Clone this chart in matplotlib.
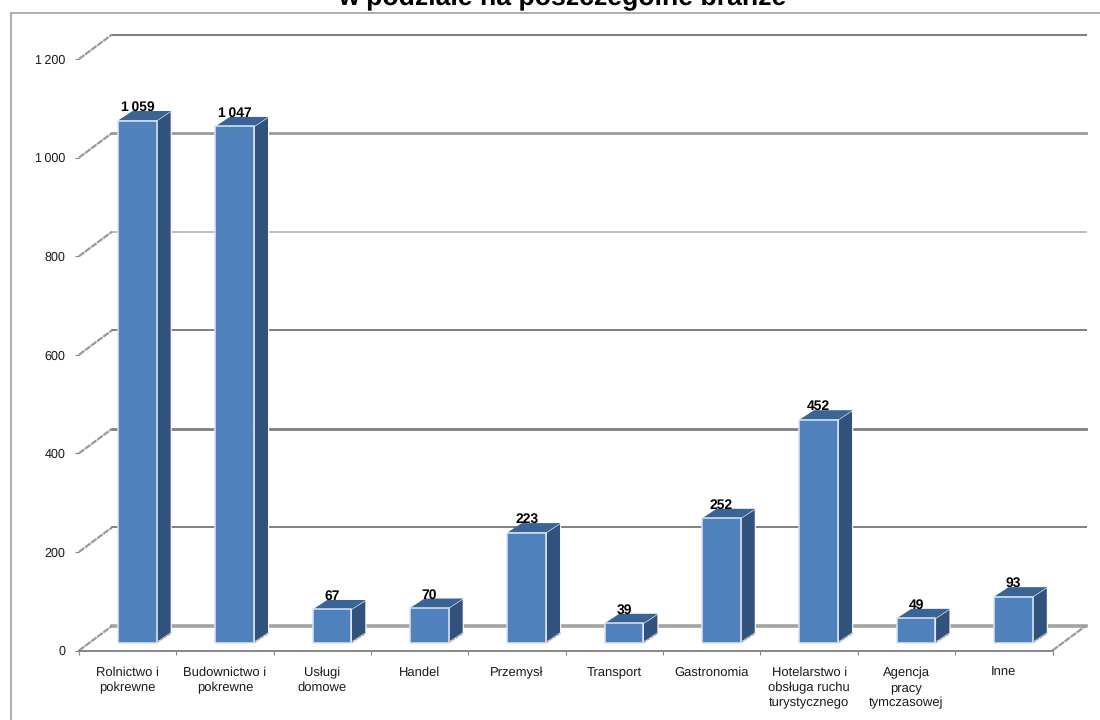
import matplotlib
matplotlib.use('Agg')
import matplotlib.pyplot as plt
from matplotlib.patches import Rectangle

plt.rcParams['font.family'] = ['Liberation Sans', 'DejaVu Sans']
plt.rcParams['text.hinting'] = 'no_hinting'

# Data
categories = ['Rolnictwo i\npokrewne', 'Budownictwo i\npokrewne', 'Usługi\ndomowe', 'Handel',
              'Przemysł', 'Transport', 'Gastronomia',
              'Hotelarstwo i\nobsługa ruchu\nturystycznego', 'Agencja\npracy\ntymczasowej', 'Inne']
values = [1059, 1047, 67, 70, 223, 39, 252, 452, 49, 93]
value_labels = ['1\u2009059', '1\u2009047', '67', '70', '223', '39', '252', '452', '49', '93']
y_ticks = [0, 200, 400, 600, 800, 1000, 1200]
y_labels = ['0', '200', '400', '600', '800', '1\u2009000', '1\u2009200']
title = 'w podziale na poszczególne branże'

W, H = 1100, 720
# one category is 97.35 px, one unit of value is 0.4929 px
PX_X = 97.35
PX_Y = 0.4929
wall_dx, wall_dy = 33 / PX_X, 24.5 / PX_Y      # depth of the floor
bar_off_x, bar_off_y = 39 / PX_X, 8 / PX_Y     # bar corner from category start
bar_w = 38.7 / PX_X
bar_dx, bar_dy = 14.5 / PX_X, 9.5 / PX_Y       # depth of a bar

fig = plt.figure(figsize=(W / 100, H / 100), dpi=100, facecolor='white')
left, right, bottom, top = 79, 79 + PX_X * 10 + 33, 650.5, 650.5 - 1200 * PX_Y - 24.5
ax = fig.add_axes([left / W, 1 - bottom / H, (right - left) / W, (bottom - top) / H])
ax.set_xlim(0, 10 + wall_dx)
ax.set_ylim(0, 1200 + wall_dy)
ax.patch.set_alpha(0)

# outer frame of the chart area, cut off by the picture on the right and at the bottom
fig.add_artist(Rectangle((10.5 / W, -0.01), 1.0, 1 - 13 / H + 0.01, transform=fig.transFigure,
                         fill=False, edgecolor='#a0a0a0', linewidth=1.2))

# walls and grid lines
grid_styles = {0: ('#a3a3a3', 2.6), 200: ('#808080', 1.4), 400: ('#808080', 2.0), 600: ('#808080', 1.4),
               800: ('#b0b0b0', 1.2), 1000: ('#9a9a9a', 2.0), 1200: ('#808080', 1.5)}
side = dict(color='#9a9a9a', lw=1.6, ls=(0, (3, 0.4)), zorder=1, clip_on=False)
for v in y_ticks:
    color, lw = grid_styles[v]
    ax.plot([wall_dx, 10 + wall_dx], [v + wall_dy, v + wall_dy], color=color, lw=lw, zorder=1, clip_on=False)
    ax.plot([0, wall_dx], [v, v + wall_dy], **side)
ax.plot([10, 10 + wall_dx], [0, wall_dy], **side)

# bars: front from ax.bar, side and top as polygons
for i, v in enumerate(values):
    x0 = i + bar_off_x
    y0 = bar_off_y
    x1 = x0 + bar_w
    y1 = y0 + v
    ax.fill([x1, x1 + bar_dx, x1 + bar_dx, x1], [y0, y0 + bar_dy, y1 + bar_dy, y1],
            facecolor='#31527c', edgecolor='white', lw=0.8, zorder=3)
    ax.fill([x0, x1, x1 + bar_dx, x0 + bar_dx], [y1, y1, y1 + bar_dy, y1 + bar_dy],
            facecolor='#3a6495', edgecolor='none', lw=0, zorder=3)
    ax.plot([x1, x1 + bar_dx], [y0, y0 + bar_dy], color='#a9a9a9', lw=1.2, ls=(0, (2, 0.5)), zorder=4)
    ax.bar(x0, v, width=bar_w, bottom=y0, align='edge', color='#4f81bd',
           edgecolor='#dce6f2', linewidth=1.1, zorder=5)
    ax.text(x0 + bar_w / 2, y1 + bar_dy - 6, value_labels[i], ha='center', va='bottom',
            fontsize=10, fontweight='bold', color='black', zorder=6)

# axes
for name in ['top', 'right', 'left']:
    ax.spines[name].set_visible(False)
ax.spines['bottom'].set_color('#868686')
ax.spines['bottom'].set_linewidth(1.4)
ax.spines['bottom'].set_bounds(0, 10)
ax.set_xticks(range(11))
ax.set_xticklabels([])
ax.set_xticks([i + 0.5 for i in range(10)], minor=True)
ax.set_xticklabels(categories, minor=True, fontsize=9.4, linespacing=1.33, color='#1a1a1a', va='top')
ax.tick_params(axis='x', which='major', length=3, width=0.8, color='#868686')
ax.tick_params(axis='x', which='minor', length=0, pad=11.5)
ax.set_yticks(y_ticks)
ax.set_yticklabels(y_labels, fontsize=9, color='#1a1a1a')
ax.tick_params(axis='y', length=3, width=0.8, color='#868686', pad=7)

fig.text(562 / W, 1 - 5.5 / H, title, ha='center', va='baseline', fontsize=19.2, fontweight='bold', color='black')

fig.savefig('out.png', dpi=100)
